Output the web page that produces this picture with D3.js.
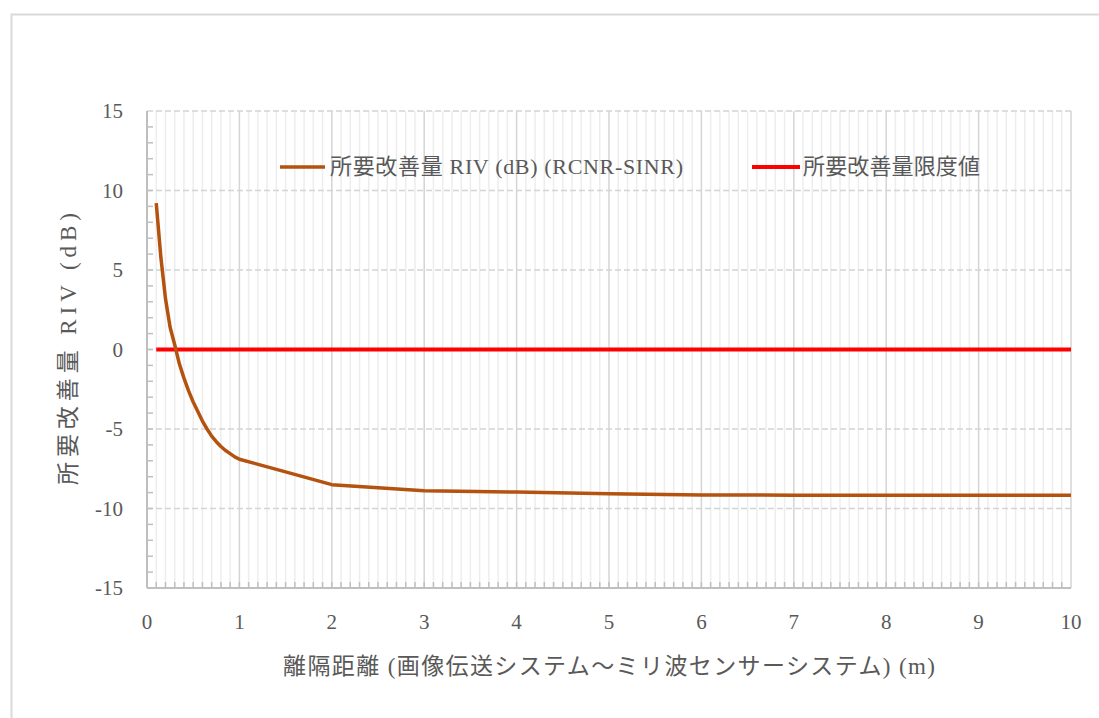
<!DOCTYPE html>
<html><head><meta charset="utf-8">
<script src="https://cdn.jsdelivr.net/npm/d3@7"></script>
<style>
html,body{margin:0;padding:0;background:#fff;}
svg{display:block;}
text{font-family:"Liberation Serif","Noto Sans CJK JP",serif;fill:#595959;}
</style></head>
<body>
<svg id="c" width="1099" height="718"></svg>
<script>
const distance = [0.1,0.15,0.2,0.25,0.3,0.35,0.4,0.45,0.5,0.55,0.6,0.65,0.7,0.75,0.8,0.85,0.9,0.95,1.0,1.5,2.0,3.0,4,5,6,7,8,9,10];
const riv = [9.2,5.8,3.2,1.4,0.3,-0.9,-1.8,-2.6,-3.3,-3.9,-4.5,-5.0,-5.45,-5.8,-6.1,-6.35,-6.55,-6.75,-6.9,-7.7,-8.5,-8.88,-8.97,-9.07,-9.15,-9.16,-9.16,-9.16,-9.16];
const limitX = [0.1, 10];
const limitY = [0, 0];
const xTicks = [0,1,2,3,4,5,6,7,8,9,10];
const yTicks = [15,10,5,0,-5,-10,-15];
const seriesNames = ["所要改善量 RIV (dB) (RCNR-SINR)", "所要改善量限度値"];
const xTitle = "離隔距離 (画像伝送システム～ミリ波センサーシステム) (m)";
const yTitle = "所要改善量 RIV (dB)";

const svg = d3.select("#c");
const L = 147, R = 1071, T = 111, B = 588;
const x = d3.scaleLinear().domain([0,10]).range([L,R]);
const y = d3.scaleLinear().domain([-15,15]).range([B,T]);

// outer frame
svg.append("path").attr("d","M11.5,740 V14.5 H1110").attr("fill","none").attr("stroke","#d9d9d9").attr("stroke-width",2);

const g = svg.append("g");
g.selectAll(".vm").data(d3.range(1,100).filter(i=>i%10!==0).map(i=>i/10)).enter().append("line")
  .attr("x1",d=>x(d)).attr("x2",d=>x(d)).attr("y1",T).attr("y2",B)
  .attr("stroke","#ededed").attr("stroke-width",1.5);
g.selectAll(".vM").data(xTicks.slice(1)).enter().append("line")
  .attr("x1",d=>x(d)).attr("x2",d=>x(d)).attr("y1",T).attr("y2",B)
  .attr("stroke","#d4d4d4").attr("stroke-width",1.5);
g.selectAll(".hM").data(yTicks.filter(v=>v!==-15)).enter().append("line")
  .attr("x1",L).attr("x2",R).attr("y1",d=>y(d)).attr("y2",d=>y(d))
  .attr("stroke","#d4d4d4").attr("stroke-width",1.5).attr("stroke-dasharray","6,3");

g.append("line").attr("x1",L).attr("x2",L).attr("y1",T).attr("y2",B).attr("stroke","#bfbfbf").attr("stroke-width",2);
g.append("line").attr("x1",L).attr("x2",R).attr("y1",B).attr("y2",B).attr("stroke","#bfbfbf").attr("stroke-width",2);
g.selectAll(".yt").data(d3.range(-14,15)).enter().append("line")
  .attr("x1",L).attr("x2",L+6).attr("y1",d=>y(d)).attr("y2",d=>y(d))
  .attr("stroke","#bfbfbf").attr("stroke-width",1.5);
g.selectAll(".xt").data(d3.range(1,100).map(i=>i/10)).enter().append("line")
  .attr("x1",d=>x(d)).attr("x2",d=>x(d)).attr("y1",B).attr("y2",B-6)
  .attr("stroke","#bfbfbf").attr("stroke-width",1.5);

svg.selectAll(".yl").data(yTicks).enter().append("text")
  .attr("x",123).attr("y",d=>y(d)).attr("dy","0.35em").attr("text-anchor","end")
  .attr("font-size",21).text(d=>d);
svg.selectAll(".xl").data(xTicks).enter().append("text")
  .attr("x",d=>x(d)).attr("y",622).attr("dy","0.35em").attr("text-anchor","middle")
  .attr("font-size",21).text(d=>d);

svg.append("text").attr("x",283).attr("y",666).attr("dy","0.35em")
  .attr("font-size",23).attr("textLength",652).attr("lengthAdjust","spacing").text(xTitle);
svg.append("text").attr("transform","translate(68,485) rotate(-90)").attr("dy","0.35em")
  .attr("font-size",23).attr("textLength",272).attr("lengthAdjust","spacing").text(yTitle);

const line = d3.line().x(d=>x(d[0])).y(d=>y(d[1]));
svg.append("path").datum(limitX.map((v,i)=>[v,limitY[i]])).attr("d",line)
  .attr("fill","none").attr("stroke","#ff0000").attr("stroke-width",4);
svg.append("path").datum(distance.map((v,i)=>[v,riv[i]])).attr("d",line)
  .attr("fill","none").attr("stroke","#b4520f").attr("stroke-width",3.5).attr("stroke-linejoin","round");

const lg = [{x1:280,x2:325,tx:330,len:353,c:"#b4520f",w:3.5,t:seriesNames[0]},{x1:752,x2:800,tx:803,len:177,c:"#ff0000",w:4,t:seriesNames[1]}];
lg.forEach(d=>{
  svg.append("line").attr("x1",d.x1).attr("x2",d.x2).attr("y1",167).attr("y2",167).attr("stroke",d.c).attr("stroke-width",d.w);
  svg.append("text").attr("x",d.tx).attr("y",166).attr("dy","0.35em").attr("font-size",22)
    .attr("textLength",d.len).attr("lengthAdjust","spacing").text(d.t);
});
</script>
</body></html>
